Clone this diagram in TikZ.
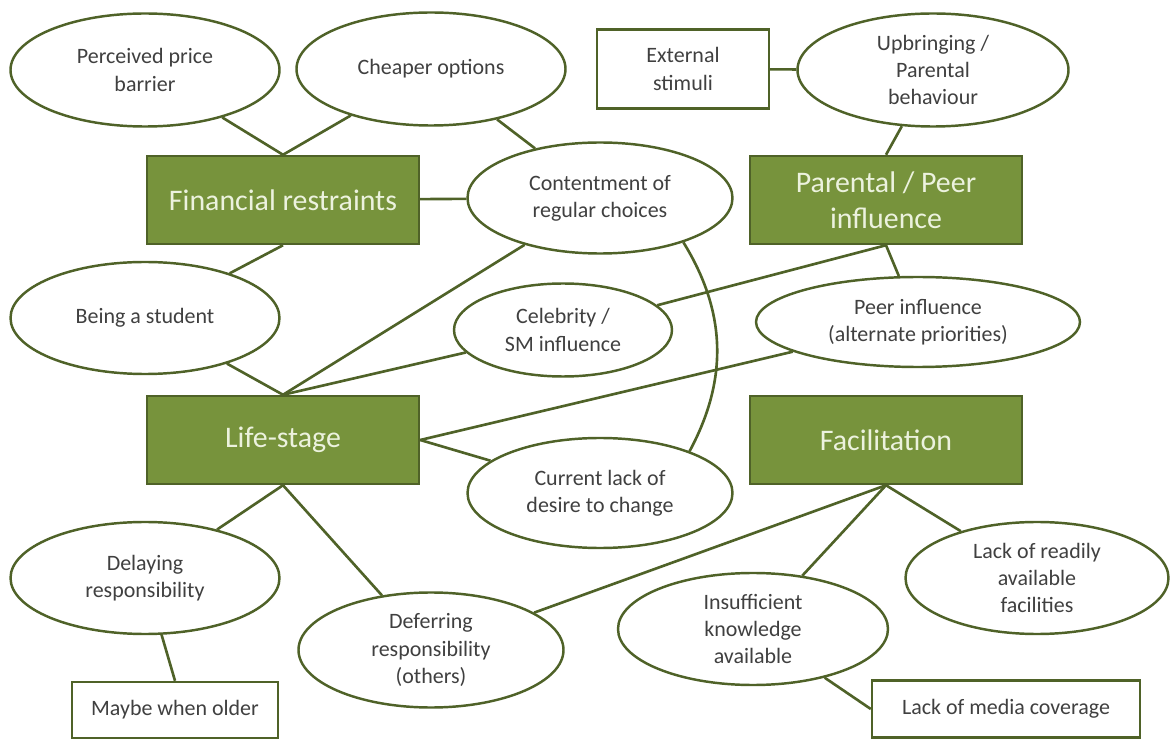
\documentclass[tikz,border=0pt]{standalone}
\usepackage{fontspec}
\setmainfont{Carlito}
\usetikzlibrary{shapes.geometric}
\usetikzlibrary{positioning}
\definecolor{themefill}{RGB}{119,147,60}
\definecolor{themeline}{RGB}{79,98,40}
\definecolor{themetext}{RGB}{236,242,222}
\definecolor{ovaltext}{RGB}{64,64,64}

\begin{document}
\begin{tikzpicture}[
    oval/.style 2 args={draw=themeline, line width=1.4pt, fill=white, ellipse, align=center,
        inner sep=0pt, minimum width=#1, minimum height=#2, text=ovaltext,
        font=\fontsize{12.5}{15.5}\selectfont},
    theme/.style={draw=themeline, line width=1.4pt, fill=themefill, rectangle, align=center,
        minimum width=5.44cm, minimum height=1.76cm, text=themetext,
        font=\fontsize{17}{20.5}\selectfont},
    note/.style 2 args={draw=themeline, line width=1.4pt, fill=white, rectangle, align=center,
        minimum width=#1, minimum height=#2, text=ovaltext,
        font=\fontsize{12.5}{15.5}\selectfont},
    conn/.style={draw=themeline, line width=1.5pt}]
    \useasboundingbox (0,0) rectangle (23.46,14.8);

    % main themes
    \node[theme] (fin) at (5.66,10.80) {Financial restraints};
    \node[theme] (parent) at (17.72,10.80) {Parental / Peer\\influence};
    \node[theme] (life) at (5.66,6.00) {Life-stage};
    \node[theme] (facil) at (17.72,6.00) {Facilitation};

    % sub themes
    \node[oval={5.38cm}{2.26cm}] (price) at (2.90,13.40) {Perceived price\\barrier};
    \node[oval={5.38cm}{2.26cm}] (cheap) at (8.62,13.42) {Cheaper options};
    \node[note={3.44cm}{1.58cm}] (ext) at (13.66,13.42) {External\\stimuli};
    \node[oval={5.42cm}{2.26cm}] (upbring) at (18.66,13.40) {Upbringing /\\Parental\\behaviour};
    \node[oval={5.30cm}{2.22cm}] (content) at (12.00,10.84) {Contentment of\\regular choices};
    \node[oval={5.38cm}{2.24cm}] (student) at (2.90,8.44) {Being a student};
    \node[oval={4.36cm}{1.86cm}] (celeb) at (11.26,8.20) {Celebrity /\\SM influence};
    \node[oval={6.48cm}{1.80cm}] (peer) at (18.36,8.36) {Peer influence\\(alternate priorities)};
    \node[oval={5.30cm}{2.20cm}] (desire) at (12.00,4.94) {Current lack of\\desire to change};
    \node[oval={5.38cm}{2.24cm}] (delay) at (2.90,3.24) {Delaying\\responsibility};
    \node[oval={5.30cm}{2.30cm}] (defer) at (8.62,1.80) {Deferring\\responsibility\\(others)};
    \node[note={4.12cm}{1.12cm}] (older) at (3.50,0.60) {Maybe when older};
    \node[oval={5.40cm}{2.24cm}] (know) at (15.06,2.22) {Insufficient\\knowledge\\available};
    \node[oval={5.26cm}{2.24cm}] (lackfac) at (20.74,3.24) {Lack of readily\\available\\facilities};
    \node[note={5.36cm}{1.14cm}] (media) at (20.12,0.62) {Lack of media coverage};

    % links
    \draw[conn] (price) -- (fin.north);
    \draw[conn] (cheap) -- (fin.north);
    \draw[conn] (cheap) -- (content);
    \draw[conn] (fin) -- (content);
    \draw[conn] (ext) -- (upbring);
    \draw[conn] (upbring) -- (parent.north);
    \draw[conn] (student) -- (fin.south);
    \draw[conn] (student) -- (life.north);
    \draw[conn] (content) -- (life.north);
    \draw[conn] (celeb) -- (life.north);
    \draw[conn] (celeb) -- (parent.south);
    \draw[conn] (peer) -- (parent.south);
    \draw[conn] (peer) -- (life.east);
    \draw[conn] (desire) -- (life.east);
    \draw[conn] (content.-28) to[bend left=30] (desire.25);
    \draw[conn] (delay) -- (life.south);
    \draw[conn] (defer) -- (life.south);
    \draw[conn] (delay) -- (older.north);
    \draw[conn] (defer) -- (facil.south);
    \draw[conn] (know) -- (facil.south);
    \draw[conn] (lackfac) -- (facil.south);
    \draw[conn] (know) -- (media.west);
\end{tikzpicture}
\end{document}
